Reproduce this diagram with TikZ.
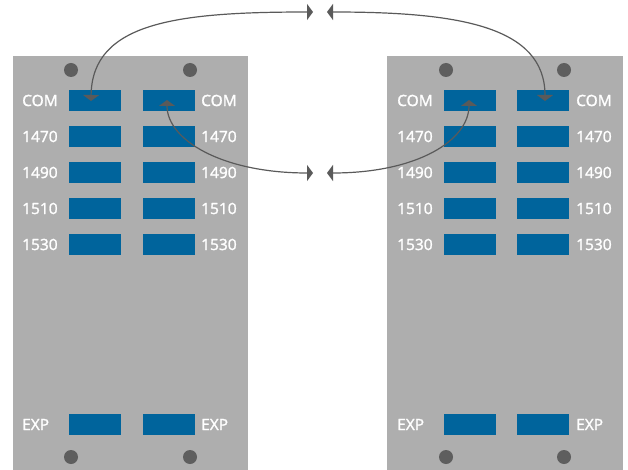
\documentclass[tikz,border=0pt]{standalone}
\usepackage{fontspec}
\setmainfont{Open Sans}
\newfontfamily\lblfont{Open Sans}[FakeBold=1.6]
\usetikzlibrary{arrows.meta}
\definecolor{panel}{RGB}{174,174,174}
\definecolor{port}{RGB}{0,100,156}
\definecolor{dot}{RGB}{94,94,94}
\definecolor{wire}{RGB}{90,90,90}
\begin{document}
\begin{tikzpicture}[x=1pt,y=-1pt,
 panelbox/.style={fill=panel,draw=none,inner sep=0pt,minimum width=235pt,minimum height=414pt,anchor=north west},
 portbox/.style={fill=port,draw=none,minimum width=52pt,minimum height=21pt,inner sep=0pt},
 hole/.style={circle,fill=dot,minimum size=14pt,inner sep=0pt},
 lbl/.style={text=white,font=\lblfont\fontsize{15.5}{16}\selectfont,anchor=west,inner sep=0pt},
 fiber/.style={draw=wire,line width=1.2pt,{Triangle[width=16pt,length=6pt]}-{Triangle[width=16pt,length=6pt]}}]
\useasboundingbox (0,0) rectangle (628,470);
\node[panelbox] (PL) at (13,56) {};
\node[panelbox,minimum width=236pt] (PR) at (387,56) {};
% holes
\node[hole] (hL1) at (71,70) {};
\node[hole] (hL2) at (190,70) {};
\node[hole] (hL3) at (71,457) {};
\node[hole] (hL4) at (190,457) {};
\node[hole] (hR1) at (446,70) {};
\node[hole] (hR2) at (564,70) {};
\node[hole] (hR3) at (446,457) {};
\node[hole] (hR4) at (564,457) {};
% ports and labels
\foreach \n/\y/\t in {com/100.5/COM, a/136.5/1470, b/172.5/1490, c/208.5/1510, d/244.5/1530, exp/424.5/EXP}{
  \node[portbox] (L1-\n) at (95,\y) {};
  \node[portbox] (L2-\n) at (169,\y) {};
  \node[portbox] (R1-\n) at (470,\y) {};
  \node[portbox] (R2-\n) at (543,\y) {};
  \node[lbl] (tL1-\n) at (22,\y) {\t};
  \node[lbl] (tL2-\n) at (201,\y) {\t};
  \node[lbl] (tR1-\n) at (397,\y) {\t};
  \node[lbl] (tR2-\n) at (576,\y) {\t};
}
% fibre ends
\coordinate (aL) at (91,101);
\coordinate (bL) at (167,100);
\coordinate (aR) at (545,101);
\coordinate (bR) at (469,100);
\coordinate (tTL) at (313,12);
\coordinate (tTR) at (327,12);
\coordinate (tBL) at (313,173);
\coordinate (tBR) at (327,173);
\draw[fiber] (aL) .. controls (92,22) and (178,12) .. (tTL);
\draw[fiber] (tTR) .. controls (455,12) and (545,25) .. (aR);
\draw[fiber] (bL) .. controls (167,140) and (222,173) .. (tBL);
\draw[fiber] (tBR) .. controls (418,173) and (469,140) .. (bR);
\end{tikzpicture}
\end{document}
